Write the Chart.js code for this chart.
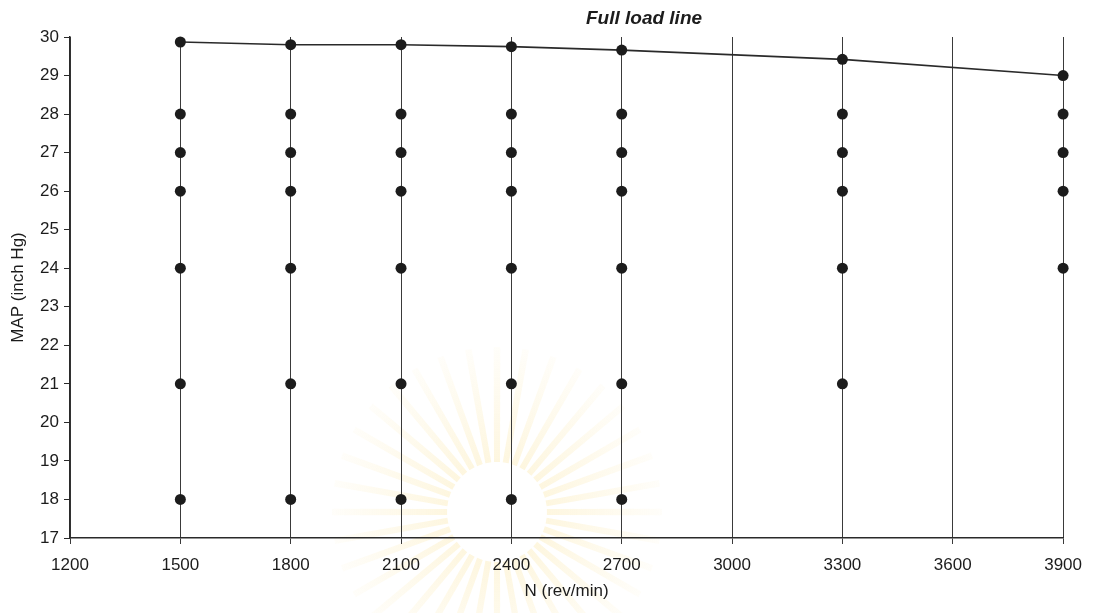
<!DOCTYPE html>
<html>
<head>
<meta charset="utf-8">
<script src="https://cdn.jsdelivr.net/npm/chart.js@4"></script>
<style>
  html, body { margin: 0; padding: 0; background: #fff; }
  #wrap { width: 1093px; height: 613px; position: relative; }
</style>
</head>
<body>
<div id="wrap"><canvas id="c" width="1093" height="613"></canvas></div>
<script>
// ---- data ----
const speeds = [1500, 1800, 2100, 2400, 2700, 3300, 3900];          // N (rev/min)
const fullLoadMAP = [29.87, 29.80, 29.80, 29.75, 29.66, 29.42, 29.00]; // full load line
const partLoadMAP = [
  [18, 21, 24, 26, 27, 28],   // 1500
  [18, 21, 24, 26, 27, 28],   // 1800
  [18, 21, 24, 26, 27, 28],   // 2100
  [18, 21, 24, 26, 27, 28],   // 2400
  [18, 21, 24, 26, 27, 28],   // 2700
  [21, 24, 26, 27, 28],       // 3300
  [24, 26, 27, 28]            // 3900
];
const xMin = 1200, xMax = 3900, xStep = 300;
const yMin = 17, yMax = 30, yStep = 1;
const titleText = 'Full load line';
const xTitle = 'N (rev/min)';
const yTitle = 'MAP (inch Hg)';

// build point tables
const fullPts = speeds.map((s, i) => ({ x: s, y: fullLoadMAP[i] }));
const partPts = [];
speeds.forEach((s, i) => partLoadMAP[i].forEach(v => partPts.push({ x: s, y: v })));

const FONT = "'Liberation Sans', Arial, sans-serif";
const INK = '#1c1c1c';

// faint background seal (decoration only)
const sealPlugin = {
  id: 'seal',
  beforeDraw(chart) {
    const { ctx } = chart;
    const cx = 497, cy = 512, r0 = 50, r1 = 165, n = 36;
    ctx.save();
    const g = ctx.createRadialGradient(cx, cy, r0, cx, cy, r1);
    g.addColorStop(0, 'rgba(250, 226, 150, 0.30)');
    g.addColorStop(1, 'rgba(250, 226, 150, 0.05)');
    ctx.fillStyle = g;
    for (let i = 0; i < n; i++) {
      const a = (i / n) * 2 * Math.PI;
      const w = 0.06;
      ctx.beginPath();
      ctx.moveTo(cx + r0 * Math.cos(a - w), cy + r0 * Math.sin(a - w));
      ctx.lineTo(cx + r1 * Math.cos(a - 0.02), cy + r1 * Math.sin(a - 0.02));
      ctx.lineTo(cx + r1 * Math.cos(a + 0.02), cy + r1 * Math.sin(a + 0.02));
      ctx.lineTo(cx + r0 * Math.cos(a + w), cy + r0 * Math.sin(a + w));
      ctx.closePath();
      ctx.fill();
    }
    ctx.restore();
  }
};

const titlePlugin = {
  id: 'offsetTitle',
  afterDraw(chart) {
    const { ctx, chartArea } = chart;
    ctx.save();
    ctx.font = "italic bold 19px " + FONT;
    ctx.fillStyle = INK;
    ctx.textAlign = 'center';
    ctx.textBaseline = 'middle';
    ctx.fillText(titleText, chartArea.left + (chartArea.right - chartArea.left) * 0.578, 19);
    ctx.restore();
  }
};

new Chart(document.getElementById('c'), {
  type: 'scatter',
  data: {
    datasets: [
      {
        label: 'Full load',
        data: fullPts,
        showLine: true,
        clip: false,
        borderColor: '#2a2a2a',
        borderWidth: 1.6,
        backgroundColor: INK,
        pointBackgroundColor: INK,
        pointBorderColor: INK,
        pointRadius: 5.5,
        pointBorderWidth: 0,
        tension: 0
      },
      {
        label: 'Test points',
        data: partPts,
        showLine: false,
        clip: false,
        backgroundColor: INK,
        pointBackgroundColor: INK,
        pointBorderColor: INK,
        pointRadius: 5.5,
        pointBorderWidth: 0
      }
    ]
  },
  options: {
    responsive: false,
    animation: false,
    devicePixelRatio: 1,
    layout: { padding: { top: 37, right: 22, left: 0, bottom: 0 } },
    plugins: {
      legend: { display: false },
      tooltip: { enabled: false },
      title: { display: false }
    },
    scales: {
      x: {
        type: 'linear',
        min: xMin, max: xMax,
        afterFit(scale) { scale.height = 75; },
        afterBuildTicks(scale) {
          const t = [];
          for (let v = xMin; v <= xMax; v += xStep) t.push({ value: v });
          scale.ticks = t;
        },
        ticks: {
          color: INK,
          font: { family: FONT, size: 17 },
          padding: 11,
          maxRotation: 0,
          autoSkip: false,
          callback: v => String(v)
        },
        grid: {
          display: true,
          drawOnChartArea: true,
          color: '#3a3a3a',
          lineWidth: 1,
          tickLength: 6
        },
        border: { display: true, color: '#2a2a2a', width: 1.5 },
        title: {
          display: true,
          text: xTitle,
          color: INK,
          font: { family: FONT, size: 17 },
          padding: { top: 0, bottom: 11 }
        }
      },
      y: {
        type: 'linear',
        min: yMin, max: yMax,
        afterFit(scale) { scale.width = 70; },
        afterBuildTicks(scale) {
          const t = [];
          for (let v = yMin; v <= yMax; v += yStep) t.push({ value: v });
          scale.ticks = t;
        },
        ticks: {
          color: INK,
          font: { family: FONT, size: 17 },
          padding: 5,
          autoSkip: false,
          callback: v => String(v)
        },
        grid: {
          display: true,
          drawOnChartArea: false,
          color: '#2a2a2a',
          lineWidth: 1,
          tickLength: 6
        },
        border: { display: true, color: '#2a2a2a', width: 1.5 },
        title: {
          display: true,
          text: yTitle,
          color: INK,
          font: { family: FONT, size: 17 },
          padding: { top: 8, bottom: 0 }
        }
      }
    }
  },
  plugins: [sealPlugin, titlePlugin]
});
</script>
</body>
</html>
